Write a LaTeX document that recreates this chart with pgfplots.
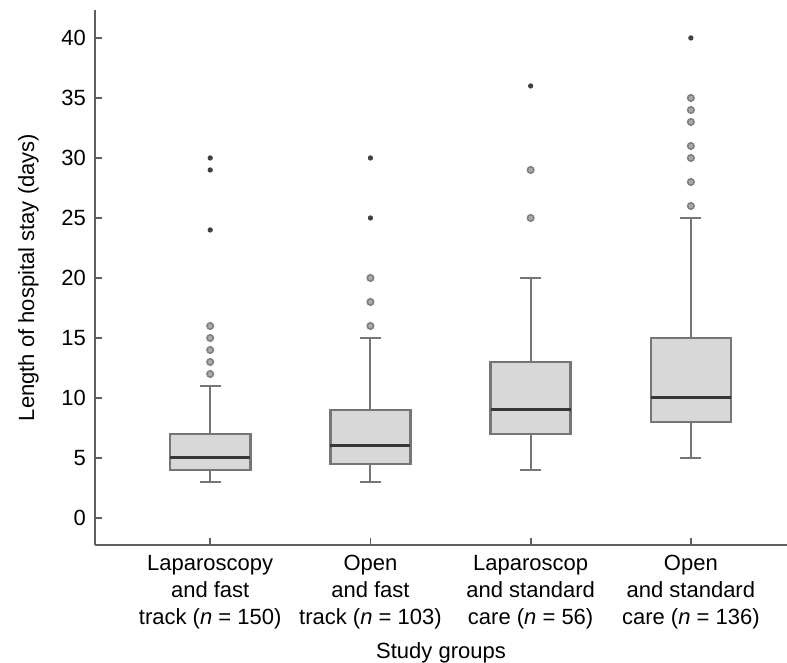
\documentclass[border=0pt]{standalone}
\usepackage{pgfplots}
\pgfplotsset{compat=1.18}
\usepgfplotslibrary{statistics}
\usepackage{fontspec}
\setmainfont{Liberation Sans}
\definecolor{boxfill}{RGB}{216,216,216}
\definecolor{boxedge}{RGB}{118,118,118}
\definecolor{medline}{RGB}{55,55,55}
\definecolor{axgray}{RGB}{95,95,95}
\begin{document}
\begin{tikzpicture}
\begin{axis}[
  scale only axis,
  width=346pt, height=267.5pt,
  xmin=-0.719, xmax=3.6,
  ymin=-2.25, ymax=42.33,
  axis x line*=bottom, axis y line*=left,
  axis line style={-, draw=axgray, line width=1pt},
  tick align=inside,
  major tick length=3.5pt,
  tick style={draw=axgray, line width=0.9pt},
  ytick={0,5,...,40},
  xtick={0,1,2,3},
  xticklabels={{Laparoscopy\\and fast\\track (\textit{n} = 150)},{Open\\and fast\\track (\textit{n} = 103)},{Laparoscop\\and standard\\care (\textit{n} = 56)},{Open\\and standard\\care (\textit{n} = 136)}},
  xticklabel style={align=center, font=\fontsize{11}{13.5}\selectfont, yshift=-1.5pt},
  yticklabel style={font=\fontsize{11}{13.5}\selectfont, xshift=-1pt},
  /pgf/number format/assume math mode=true,
  xlabel={Study groups},
  ylabel={Length of hospital stay (days)},
  ylabel shift=4.5pt,
  label style={font=\fontsize{11}{13.5}\selectfont},
  clip=false,
  boxplot/draw direction=y,
  boxplot/box extend=0.5,
  boxplot/whisker extend=0.13,
  boxplot/every box/.style={draw=boxedge, fill=boxfill, line width=1.3pt},
  boxplot/every whisker/.style={draw=boxedge, line width=1pt},
  boxplot/every median/.style={draw=medline, line width=1.5pt},
]
\addplot[boxplot prepared={draw position=0, lower whisker=3, lower quartile=4, median=5, upper quartile=7, upper whisker=11}] coordinates {};
\addplot[boxplot prepared={draw position=1, lower whisker=3, lower quartile=4.5, median=6, upper quartile=9, upper whisker=15}] coordinates {};
\addplot[boxplot prepared={draw position=2, lower whisker=4, lower quartile=7, median=9, upper quartile=13, upper whisker=20}] coordinates {};
\addplot[boxplot prepared={draw position=3, lower whisker=5, lower quartile=8, median=10, upper quartile=15, upper whisker=25}] coordinates {};
% mild outliers
\addplot[only marks, mark=*, mark size=1.6pt, mark options={draw=black!50, fill=black!33, line width=0.8pt}] coordinates {
(0,12) (0,13) (0,14) (0,15) (0,16)
(1,16) (1,18) (1,20)
(2,25) (2,29)
(3,26) (3,28) (3,30) (3,31) (3,33) (3,34) (3,35)
};
% extreme outliers
\addplot[only marks, mark=*, mark size=1.1pt, mark options={draw=black!75, fill=black!75}] coordinates {
(0,24) (0,29) (0,30)
(1,25) (1,30)
(2,36)
(3,40)
};
\end{axis}
\pgfresetboundingbox
\path ([shift={(-47.5pt,-59pt)}]current axis.south west) rectangle ([shift={(0pt,5pt)}]current axis.north east);
\end{tikzpicture}
\end{document}
